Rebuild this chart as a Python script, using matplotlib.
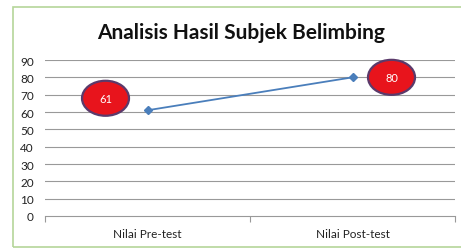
import matplotlib
matplotlib.use("Agg")
import matplotlib.pyplot as plt
from matplotlib.patches import Ellipse, Rectangle
from matplotlib.transforms import Affine2D, ScaledTranslation

categories = ["Nilai Pre-test", "Nilai Post-test"]
values = [61, 80]
yticks = [0, 10, 20, 30, 40, 50, 60, 70, 80, 90]
title = "Analisis Hasil Subjek Belimbing"

W, H = 461, 251
fig = plt.figure(figsize=(W / 100, H / 100), dpi=100)
plt.rcParams['font.family'] = ['Lato', 'DejaVu Sans']

# outer green frame
fig.patches.append(Rectangle((13 / W, 1 - 248 / H), (W - 12) / W, (248 - 8) / H,
                             transform=fig.transFigure, fill=False,
                             edgecolor="#b5d69a", linewidth=1.2))

ax = fig.add_axes([45 / W, 1 - 217 / H, 410 / W, 156 / H])
x = list(range(len(categories)))
ax.plot(x, values, color="#4a7ebb", linewidth=1.3, marker="D", markersize=4,
        markerfacecolor="#4a7ebb", markeredgecolor="#4a7ebb", zorder=3)

ax.set_xlim(-0.5, len(categories) - 0.5)
ax.set_ylim(0, 90)
ax.set_yticks(yticks)
ax.set_yticklabels([str(v) for v in yticks], fontsize=8.5, color="#222222")
ax.tick_params(axis="y", length=0, pad=8)
for v in yticks[1:]:
    ax.axhline(v, color="#999999", linewidth=0.8, zorder=1)

ax.set_xticks([i - 0.5 for i in range(len(categories) + 1)])
ax.set_xticklabels([])
ax.set_xticks(x, minor=True)
ax.set_xticklabels(categories, minor=True, fontsize=8.5, color="#222222")
ax.tick_params(axis="x", which="major", length=4, color="#999999", width=0.8)
ax.tick_params(axis="x", which="minor", length=0, pad=9)

for s in ["top", "right", "left"]:
    ax.spines[s].set_visible(False)
ax.spines["bottom"].set_color("#999999")
ax.spines["bottom"].set_linewidth(0.8)

# red ellipse data labels
offsets = [(-42, 12), (39, 0)]
for xi, v, (dx, dy) in zip(x, values, offsets):
    tr = Affine2D().translate(dx, dy) + ScaledTranslation(xi, v, ax.transData)
    e = Ellipse((0, 0), 47, 35, transform=tr, facecolor="#e8141c",
                edgecolor="#5b3a6b", linewidth=1.6, zorder=5, clip_on=False)
    ax.add_patch(e)
    ax.text(0, 0, str(v), transform=tr, ha="center", va="center",
            fontsize=8, color="white", zorder=6)

fig.text(241 / W, 1 - 33 / H, title, ha="center", va="center",
         fontsize=15, fontweight="bold", color="#111111")

fig.savefig("out.png", dpi=100)
